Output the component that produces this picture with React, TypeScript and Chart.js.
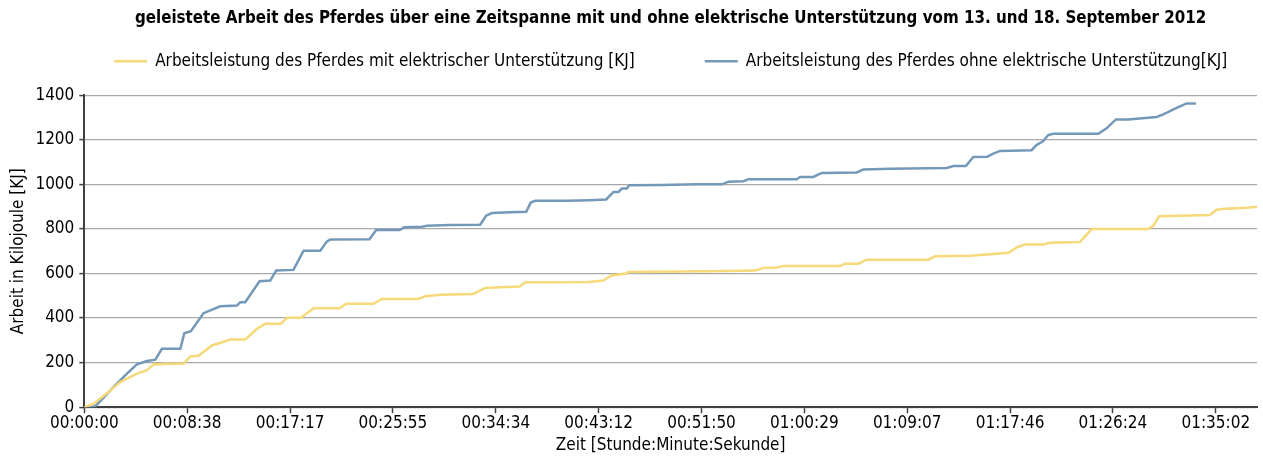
import React, { useEffect, useRef } from "react";
import { Chart, registerables } from "chart.js";

Chart.register(...registerables);

// ---- data (time in seconds, work in kJ) ----
const withSupportTimes = [0, 47, 122, 181, 265, 316, 349, 416, 500, 534, 576, 643, 736, 811, 870, 912, 991, 1021, 1092, 1155, 1286, 1320, 1457, 1500, 1684, 1718, 1794, 1961, 2020, 2096, 2193, 2222, 2541, 2616, 2654, 2734, 2742, 3154, 3381, 3422, 3490, 3523, 3809, 3834, 3901, 3943, 4254, 4288, 4464, 4581, 4657, 4699, 4741, 4833, 4867, 5018, 5077, 5362, 5387, 5417, 5673, 5706, 5748, 5857, 5910];
const withSupportValues = [0, 16, 68, 113, 151, 166, 192, 195, 195, 228, 231, 277, 304, 304, 352, 374, 374, 401, 401, 444, 444, 464, 464, 486, 486, 498, 505, 508, 535, 538, 541, 561, 562, 568, 590, 601, 607, 610, 613, 625, 627, 634, 634, 644, 644, 662, 662, 677, 680, 687, 693, 717, 730, 730, 738, 741, 799, 799, 814, 857, 862, 886, 890, 895, 899];

const withoutSupportTimes = [0, 40, 60, 148, 215, 265, 316, 358, 391, 484, 504, 537, 601, 685, 769, 786, 811, 883, 937, 967, 1054, 1105, 1189, 1223, 1240, 1437, 1471, 1589, 1612, 1701, 1727, 1844, 1995, 2025, 2054, 2113, 2227, 2250, 2272, 2432, 2549, 2630, 2667, 2692, 2709, 2734, 2747, 2902, 3087, 3213, 3246, 3322, 3347, 3590, 3607, 3674, 3716, 3893, 3926, 4060, 4346, 4380, 4443, 4480, 4551, 4581, 4615, 4774, 4799, 4833, 4858, 4883, 5110, 5152, 5199, 5261, 5404, 5438, 5505, 5555, 5602];
const withoutSupportValues = [0, 0, 8, 91, 151, 192, 207, 213, 262, 262, 332, 341, 422, 453, 456, 471, 471, 565, 568, 613, 616, 702, 702, 744, 752, 754, 795, 795, 807, 810, 814, 817, 819, 859, 871, 874, 877, 918, 926, 926, 929, 932, 966, 966, 981, 981, 996, 997, 1000, 1000, 1012, 1014, 1023, 1023, 1033, 1033, 1051, 1053, 1067, 1070, 1073, 1082, 1082, 1123, 1124, 1138, 1150, 1153, 1176, 1194, 1221, 1227, 1227, 1251, 1291, 1291, 1302, 1314, 1343, 1363, 1363];

const xTickSeconds = [0, 518.4, 1036.8, 1555.2, 2073.6, 2592, 3110.4, 3628.8, 4147.2, 4665.6, 5184, 5702.4];
const xTickLabels = ["00:00:00", "00:08:38", "00:17:17", "00:25:55", "00:34:34", "00:43:12", "00:51:50", "01:00:29", "01:09:07", "01:17:46", "01:26:24", "01:35:02"];
const xMax = 5910;
const yMax = 1400;
const yStep = 100;
const yLabelStep = 200;

const seriesLabels = [
  "Arbeitsleistung des Pferdes mit elektrischer Unterstützung [KJ]",
  "Arbeitsleistung des Pferdes ohne elektrische Unterstützung[KJ]",
];
const titleText = "geleistete Arbeit des Pferdes über eine Zeitspanne mit und ohne elektrische Unterstützung vom 13. und 18. September 2012";
const xTitle = "Zeit [Stunde:Minute:Sekunde]";
const yTitle = "Arbeit in Kilojoule [KJ]";

const FONT = '"DejaVu Sans Condensed", "DejaVu Sans", sans-serif';
const YELLOW = "#f6d978";
const BLUE = "#7499b8";

const legendPlugin = {
  id: "customLegend",
  afterDraw(chart: any) {
    const ctx = chart.ctx;
    const area = chart.chartArea;
    ctx.save();
    ctx.font = `17px ${FONT}`;
    ctx.textBaseline = "middle";
    ctx.fillStyle = "#000";
    const lineW = 33, gap = 8, itemGap = 70;
    const items = chart.data.datasets.map((ds: any) => ({ text: ds.label, color: ds.borderColor }));
    const widths = items.map((it: any) => lineW + gap + ctx.measureText(it.text).width);
    const total = widths.reduce((a: number, b: number) => a + b, 0) + itemGap * (items.length - 1);
    let x = (area.left + area.right) / 2 - total / 2;
    const y = area.top - 34;
    items.forEach((it: any, i: number) => {
      ctx.strokeStyle = it.color;
      ctx.lineWidth = 2.5;
      ctx.beginPath();
      ctx.moveTo(x, y);
      ctx.lineTo(x + lineW, y);
      ctx.stroke();
      ctx.fillText(it.text, x + lineW + gap, y);
      x += widths[i] + itemGap;
    });
    ctx.restore();
  },
};

export default function App() {
  const canvasRef = useRef<HTMLCanvasElement | null>(null);

  useEffect(() => {
    const canvas = canvasRef.current;
    if (!canvas) return;
    const chart = new Chart(canvas, {
      type: "line",
      data: {
        datasets: [
          {
            label: seriesLabels[0],
            data: withSupportTimes.map((t, i) => ({ x: t, y: withSupportValues[i] })),
            borderColor: YELLOW,
            backgroundColor: YELLOW,
            borderWidth: 2.5,
            pointRadius: 0,
            tension: 0,
          },
          {
            label: seriesLabels[1],
            data: withoutSupportTimes.map((t, i) => ({ x: t, y: withoutSupportValues[i] })),
            borderColor: BLUE,
            backgroundColor: BLUE,
            borderWidth: 2.5,
            pointRadius: 0,
            tension: 0,
          },
        ],
      },
      options: {
        responsive: false,
        animation: false,
        layout: { padding: { top: 9, left: 8, right: 6, bottom: 2 } },
        plugins: {
          legend: { display: false },
          tooltip: { enabled: false },
          title: {
            display: true,
            text: titleText,
            fullSize: false,
            color: "#000",
            font: { family: FONT, size: 16.8, weight: "bold" },
            padding: { top: 0, bottom: 66 },
          },
        },
        scales: {
          x: {
            type: "linear",
            min: 0,
            max: xMax,
            afterBuildTicks: (scale: any) => {
              scale.ticks = xTickSeconds.map((v) => ({ value: v }));
            },
            ticks: {
              color: "#000",
              font: { family: FONT, size: 17 },
              padding: 0,
              maxRotation: 0,
              autoSkip: false,
              callback: (value: any) => {
                const idx = xTickSeconds.indexOf(Number(value));
                return idx >= 0 ? xTickLabels[idx] : "";
              },
            },
            grid: { drawOnChartArea: false, drawTicks: true, tickLength: 6, tickColor: "#404040", tickWidth: 1.5 },
            border: { display: true, color: "#404040", width: 2 },
            title: { display: true, text: xTitle, color: "#000", font: { family: FONT, size: 17 }, padding: { top: 2, bottom: 1 } },
          },
          y: {
            type: "linear",
            min: 0,
            max: yMax,
            ticks: {
              stepSize: yStep,
              color: "#000",
              font: { family: FONT, size: 17 },
              padding: 5,
              callback: (value: any) => (Number(value) % yLabelStep === 0 ? String(value) : ""),
            },
            grid: { color: "#a8a8a8", lineWidth: 1.2, tickLength: 5, tickColor: "#404040", tickWidth: 1.5 },
            border: { display: true, color: "#404040", width: 2 },
            title: { display: true, text: yTitle, color: "#000", font: { family: FONT, size: 17 }, padding: { top: 0, bottom: 2 } },
          },
        },
      },
      plugins: [legendPlugin],
    } as any);
    return () => chart.destroy();
  }, []);

  return (
    <div style={{ position: "fixed", left: 0, top: 0, width: 1263, height: 459, background: "#fff" }}>
      <canvas ref={canvasRef} width={1263} height={459} style={{ display: "block" }} />
    </div>
  );
}
